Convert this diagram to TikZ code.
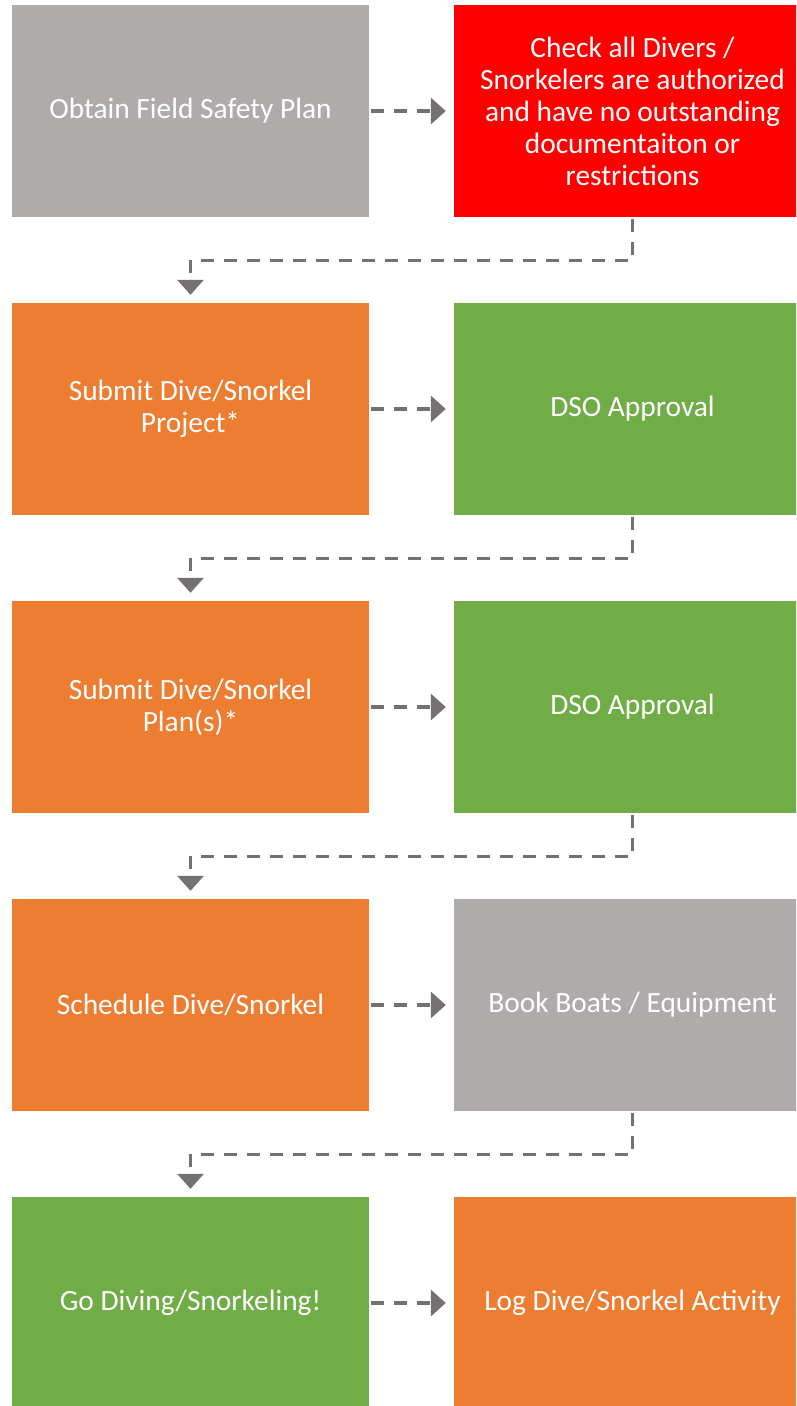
\documentclass[tikz,border=0pt]{standalone}
\usepackage{fontspec}
\setmainfont{Carlito}
\usetikzlibrary{arrows.meta}
\definecolor{boxgray}{HTML}{AFABAB}
\definecolor{boxred}{HTML}{FF0000}
\definecolor{boxorange}{HTML}{ED7D31}
\definecolor{boxgreen}{HTML}{70AD47}
\definecolor{linegray}{HTML}{767171}
\tikzset{
  stepbox/.style={minimum width=357pt, minimum height=212pt, inner sep=0pt, align=center,
    text=white, font=\fontsize{29.4}{32}\selectfont},
  conn/.style={draw=linegray, line width=3.3pt, dash pattern=on 13pt off 10pt,
    -{Triangle[length=15pt,width=26pt]}, shorten <=2pt, shorten >=8pt}
}
\begin{document}
\begin{tikzpicture}[x=1pt,y=-1pt]
\useasboundingbox (0,0) rectangle (796,1406);
\clip (0,0) rectangle (796,1406);
\node[stepbox, fill=boxgray]   (l1) at (190.5,111) {Obtain Field Safety Plan};
\node[stepbox, fill=boxred]    (r1) at (632.5,111) {Check all Divers /\\Snorkelers are authorized\\and have no outstanding\\documentaiton or\\restrictions};
\node[stepbox, fill=boxorange] (l2) at (190.5,409) {Submit Dive/Snorkel\\Project*};
\node[stepbox, fill=boxgreen]  (r2) at (632.5,409) {DSO Approval};
\node[stepbox, fill=boxorange] (l3) at (190.5,707) {Submit Dive/Snorkel\\Plan(s)*};
\node[stepbox, fill=boxgreen]  (r3) at (632.5,707) {DSO Approval};
\node[stepbox, fill=boxorange] (l4) at (190.5,1005) {Schedule Dive/Snorkel};
\node[stepbox, fill=boxgray]   (r4) at (632.5,1005) {Book Boats / Equipment};
\node[stepbox, fill=boxgreen]  (l5) at (190.5,1303) {Go Diving/Snorkeling!};
\node[stepbox, fill=boxorange] (r5) at (632.5,1303) {Log Dive/Snorkel Activity};
\foreach \i in {1,...,5}{
  \draw[conn] (l\i.east) -- (r\i.west);
}
\foreach \i/\j in {1/2,2/3,3/4,4/5}{
  \draw[conn] (r\i.south) -- ++(0,43) -| (l\j.north);
}
\end{tikzpicture}
\end{document}
